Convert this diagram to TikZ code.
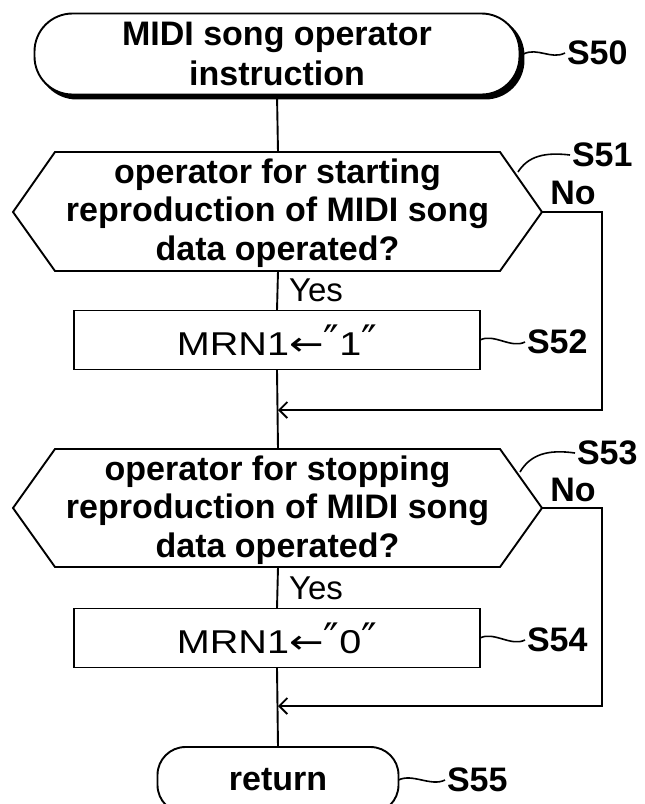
\documentclass[tikz,border=0pt]{standalone}
\usepackage{fontspec}
\setmainfont{Liberation Sans}
\newfontfamily\dvs{DejaVu Sans}
\newfontfamily\mrnfont[FakeStretch=1.2]{Liberation Sans}
\newfontfamily\dvsw[FakeStretch=1.25]{DejaVu Sans}
\newcommand{\qmark}{{\fontsize{42}{38}\selectfont\dvs ″}}
\usetikzlibrary{arrows.meta,shadows}
\begin{document}
\begin{tikzpicture}[x=1pt,y=-1pt,
  line width=1.9pt, line join=miter,
  every node/.style={inner sep=0pt, outer sep=0pt},
  hextxt/.style={font=\fontsize{34}{38.5}\selectfont\bfseries, align=center},
  termbox/.style={draw, fill=white, align=center, font=\fontsize{34}{40}\selectfont\bfseries},
  procbox/.style={draw, minimum width=406pt, minimum height=59pt, font=\fontsize{33}{38}\selectfont\mrnfont},
  lbl/.style={font=\fontsize{34}{38}\selectfont\bfseries, anchor=west},
  yn/.style={font=\fontsize{33}{38}\selectfont},
  nolbl/.style={font=\fontsize{34}{38}\selectfont\bfseries},
  merge/.style={-{Straight Barb[length=8pt,width=16pt,line width=1.9pt]}},
  wave/.style={line width=1.6pt}
]
\useasboundingbox (0,0) rectangle (645,804);

% ---------- S50 terminal ----------
\node[termbox, minimum width=485pt, minimum height=81pt, rounded corners=38pt,
      copy shadow={shadow xshift=4pt, shadow yshift=-4pt, fill=black, draw=black}]
      (s50) at (277,54) {MIDI song operator\\instruction};
\node[lbl] (l50) at (567,53) {S50};
\draw[wave] ([xshift=4pt]s50.east) .. controls +(14,-7) and +(-14,7) .. ([xshift=-2pt]l50.west);

% ---------- S51 decision ----------
\coordinate (h1w) at (13,212);
\coordinate (h1tl) at (55,152);
\coordinate (h1tr) at (500,152);
\coordinate (h1e) at (542,212);
\coordinate (h1br) at (500,271);
\coordinate (h1bl) at (55,271);
\coordinate (h1t) at (278,152);
\coordinate (h1b) at (278,271);
\draw (h1w) -- (h1tl) -- (h1tr) -- (h1e) -- (h1br) -- (h1bl) -- cycle;
\node[hextxt] (s51) at (277.5,213) {operator for starting\\reproduction of MIDI song\\data operated?};
\node[lbl] (l51) at (572,155) {S51};
\coordinate (c51) at (518,172);
\draw[wave] (c51) .. controls (528,156) and (545,152) .. ([xshift=-2pt]l51.west);
\node[nolbl] (no1) at (573,193) {No};
\node[yn, anchor=west] (yes1) at (289,290) {Yes};

% ---------- S52 process ----------
\node[procbox] (s52) at (277,340) {MRN1{\dvsw ←}\qmark 1\qmark};
\node[lbl] (l52) at (527,342) {S52};
\draw[wave] (s52.east) .. controls +(14,-7) and +(-14,7) .. ([xshift=-2pt]l52.west);

% ---------- S53 decision ----------
\coordinate (h2w) at (13,508);
\coordinate (h2tl) at (55,449);
\coordinate (h2tr) at (500,449);
\coordinate (h2e) at (542,508);
\coordinate (h2br) at (500,567);
\coordinate (h2bl) at (55,567);
\coordinate (h2t) at (278,449);
\coordinate (h2b) at (278,567);
\draw (h2w) -- (h2tl) -- (h2tr) -- (h2e) -- (h2br) -- (h2bl) -- cycle;
\node[hextxt] (s53) at (277.5,510) {operator for stopping\\reproduction of MIDI song\\data operated?};
\node[lbl] (l53) at (577,453) {S53};
\coordinate (c53) at (520,472);
\draw[wave] (c53) .. controls (530,455) and (547,449) .. ([xshift=-2pt]l53.west);
\node[nolbl] (no2) at (573,490) {No};
\node[yn, anchor=west] (yes2) at (289,588) {Yes};

% ---------- S54 process ----------
\node[procbox] (s54) at (277,638) {MRN1{\dvsw ←}\qmark 0\qmark};
\node[lbl] (l54) at (527,640) {S54};
\draw[wave] (s54.east) .. controls +(14,-7) and +(-14,7) .. ([xshift=-2pt]l54.west);

% ---------- S55 return ----------
\node[draw, minimum width=241pt, minimum height=66pt, rounded corners=28pt,
      font=\fontsize{34}{38}\selectfont\bfseries] (s55) at (278,780) {return};
\node[lbl] (l55) at (447,780) {S55};
\draw[wave] (s55.east) .. controls +(14,-7) and +(-14,7) .. ([xshift=-2pt]l55.west);

% ---------- connectors ----------
\coordinate (k1a) at (602,212);
\coordinate (k1b) at (602,410);
\coordinate (m1) at (278,410);
\coordinate (k2a) at (602,508);
\coordinate (k2b) at (602,706);
\coordinate (m2) at (278,706);

\draw (s50.south) -- (h1t);
\draw (h1b) -- (s52.north);
\draw[merge] (h1e) -- (k1a) -- (k1b) -- (m1);
\draw (s52.south) -- (h2t);
\draw (h2b) -- (s54.north);
\draw[merge] (h2e) -- (k2a) -- (k2b) -- (m2);
\draw (s54.south) -- (s55.north);
\end{tikzpicture}
\end{document}
